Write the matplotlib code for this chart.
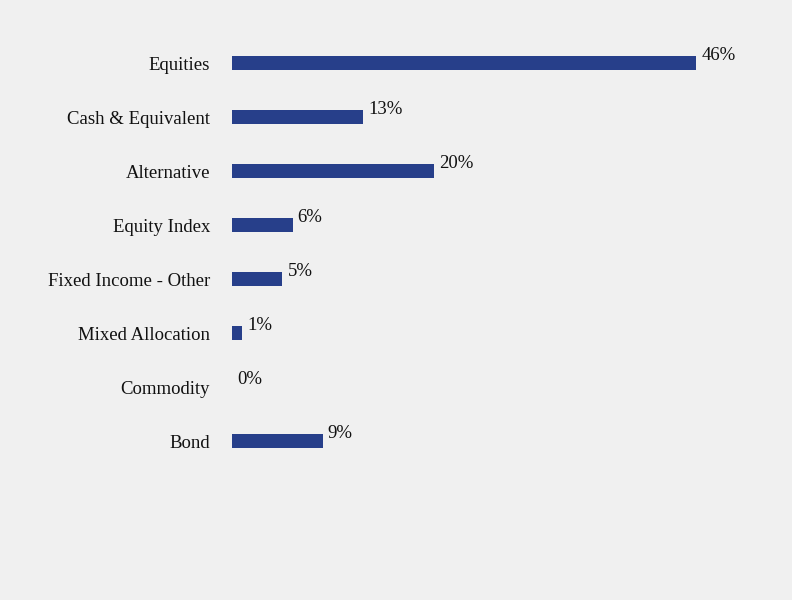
import matplotlib
matplotlib.use("Agg")
import matplotlib.pyplot as plt

# ── data ────────────────────────────────────────────────────────────────────
categories = ["Equities", "Cash & Equivalent", "Alternative", "Equity Index",
              "Fixed Income - Other", "Mixed Allocation", "Commodity", "Bond"]
shares = [46, 13, 20, 6, 5, 1, 0, 9]          # percent of portfolio

BG = "#f0f0f0"
BAR = "#273f8a"

plt.rcParams["font.family"] = ["Liberation Serif", "DejaVu Serif"]

fig = plt.figure(figsize=(7.92, 6.0), dpi=100)
fig.patch.set_facecolor(BG)
ax = fig.add_axes([232 / 792, 1 - 468 / 600, 504.5 / 792, 432 / 600])
ax.set_facecolor(BG)

ypos = list(range(len(categories)))
ax.barh(ypos, shares, height=0.26, color=BAR)

for y, v in zip(ypos, shares):
    ax.annotate(f"{v}%", xy=(v, y), xytext=(5, 3), textcoords="offset pixels",
                ha="left", va="baseline", fontsize=13.5, color="#111111")

ax.set_xlim(0, 50)
ax.set_ylim(len(categories) - 0.5, -0.5)
ax.set_yticks(ypos)
ax.set_yticklabels(categories, fontsize=13.5, color="#111111")
ax.tick_params(axis="y", length=0, pad=15.8)
ax.set_xticks([])
for spine in ax.spines.values():
    spine.set_visible(False)

fig.savefig("out.png", dpi=100, facecolor=fig.get_facecolor())
plt.close(fig)
